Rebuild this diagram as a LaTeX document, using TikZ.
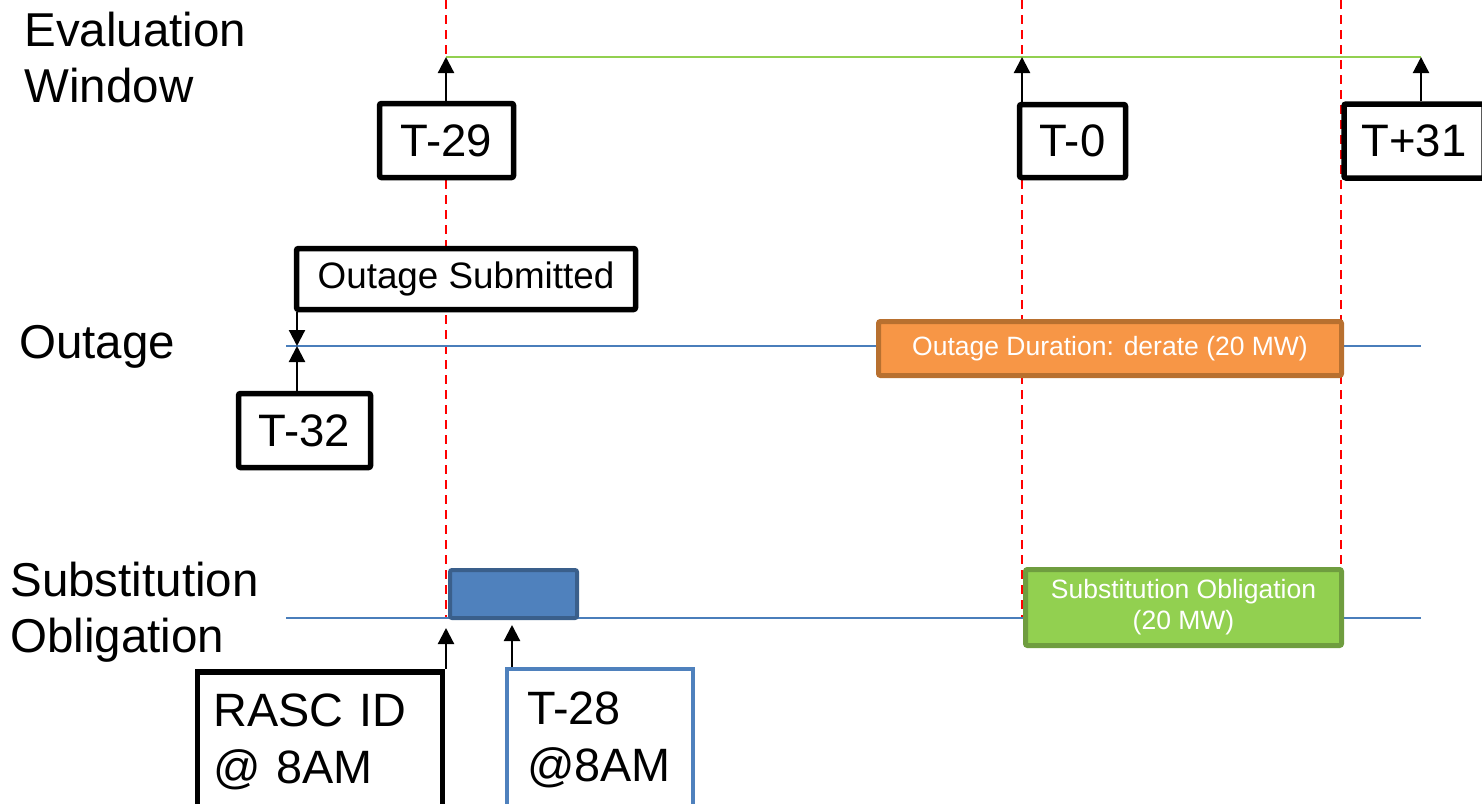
\documentclass[tikz,border=0pt]{standalone}
\usepackage{fontspec}
\setmainfont{Liberation Sans}
\usetikzlibrary{arrows.meta}
\definecolor{evgreen}{HTML}{92D050}
\definecolor{evgreenD}{HTML}{6F9D3F}
\definecolor{orng}{HTML}{F79646}
\definecolor{orngD}{HTML}{B8702F}
\definecolor{bluF}{HTML}{4F81BD}
\definecolor{bluD}{HTML}{3A5F8B}
\definecolor{lineblue}{HTML}{4A7EBB}
\begin{document}
\begin{tikzpicture}[x=0.5pt,y=-0.5pt,
  guide/.style={red, line width=1pt, dash pattern=on 4.5pt off 3pt},
  tline/.style={lineblue, line width=0.75pt},
  gline/.style={evgreen, line width=1pt},
  arr/.style={-{Triangle[width=8pt,length=8pt]}, line width=1.1pt, black},
  tbox/.style={draw=black, line width=2.75pt, fill=white, rounded corners=1pt, inner sep=0pt, font=\fontsize{22.75}{26}\selectfont},
  lbl/.style={inner sep=0pt, align=left, font=\fontsize{23.75}{28}\selectfont},
  bigbox/.style={line width=2.75pt, fill=white, inner ysep=0pt, align=left, font=\fontsize{23.4}{28.5}\selectfont},
  bar/.style={line width=2.5pt, rounded corners=1pt, inner sep=0pt, text=white, align=center, font=\fontsize{13.25}{15.5}\selectfont}
]
\useasboundingbox (0,0) rectangle (1482,803);
\clip (0,0) rectangle (1482,803);

% guide coordinates
\coordinate (ew29) at (446,57);
\coordinate (ew0) at (1022,57);
\coordinate (ew31) at (1421,57);
\coordinate (os) at (297,346);
\coordinate (rascTip) at (446,628);
\coordinate (t28Tip) at (512,625);

% red dashed guides
\draw[guide] (446,0) -- (446,618);
\draw[guide] (1022,0) -- (1022,618);
\draw[guide] (1341,0) -- (1341,618);

% time lines
\draw[gline] (ew29) -- (ew31);
\draw[tline] (286,346) -- (1421,346);
\draw[tline] (286,618) -- (1421,618);

% row labels
\node[lbl, anchor=north west] (lEval) at (24,12) {Evaluation\\Window};
\node[lbl, anchor=base west] (lOut) at (19,358) {Outage};
\node[lbl, anchor=north west] (lSub) at (10,562) {Substitution\\Obligation};

% evaluation window boxes
\node[tbox, minimum width=67pt, minimum height=37pt] (t29) at (446.5,140.5) {T-29};
\node[tbox, minimum width=53pt, minimum height=36.5pt] (t0) at (1072.5,141) {T-0};
\node[tbox, minimum width=70pt, minimum height=37pt] (t31) at (1414,141) {T+31};

% outage row
\node[tbox, minimum width=169.5pt, minimum height=30.5pt, font=\fontsize{18.4}{22}\selectfont] (osub) at (466,279) {Outage Submitted};
\node[tbox, minimum width=66pt, minimum height=37pt] (t32) at (304.5,430.5) {T-32};
\node[bar, draw=orngD, fill=orng, minimum width=231.5pt, minimum height=27pt] (odur) at (1110,348.5) {Outage Duration: derate (20 MW)};

% substitution row
\node[bar, draw=bluD, line width=2pt, fill=bluF, minimum width=63.5pt, minimum height=24pt] (sblk) at (513.5,594) {};
\node[bar, draw=evgreenD, fill=evgreen, minimum width=158pt, minimum height=38pt] (sobl) at (1183.5,607.5) {\raisebox{-1.5pt}{Substitution Obligation}\\\raisebox{-1.5pt}{(20 MW)}};
\node[bigbox, draw=black, inner xsep=8pt, text width=106.5pt, minimum height=70pt] (rasc) at (320,742) {RASC ID\\@ 8AM};
\node[bigbox, draw=bluF, line width=2pt, inner xsep=10pt, text width=73pt, minimum height=71pt] (t28) at (600,740) {T-28\\@8AM};

% arrows
\draw[arr] (t29.north -| ew29) -- (ew29);
\draw[arr] (t0.north -| ew0) -- (ew0);
\draw[arr] (t31.north -| ew31) -- (ew31);
\draw[arr] (osub.south -| os) -- (os);
\draw[arr] (t32.north -| os) -- (os);
\draw[arr] (rasc.north -| rascTip) -- (rascTip);
\draw[arr] (t28.north -| t28Tip) -- (t28Tip);
\end{tikzpicture}
\end{document}
